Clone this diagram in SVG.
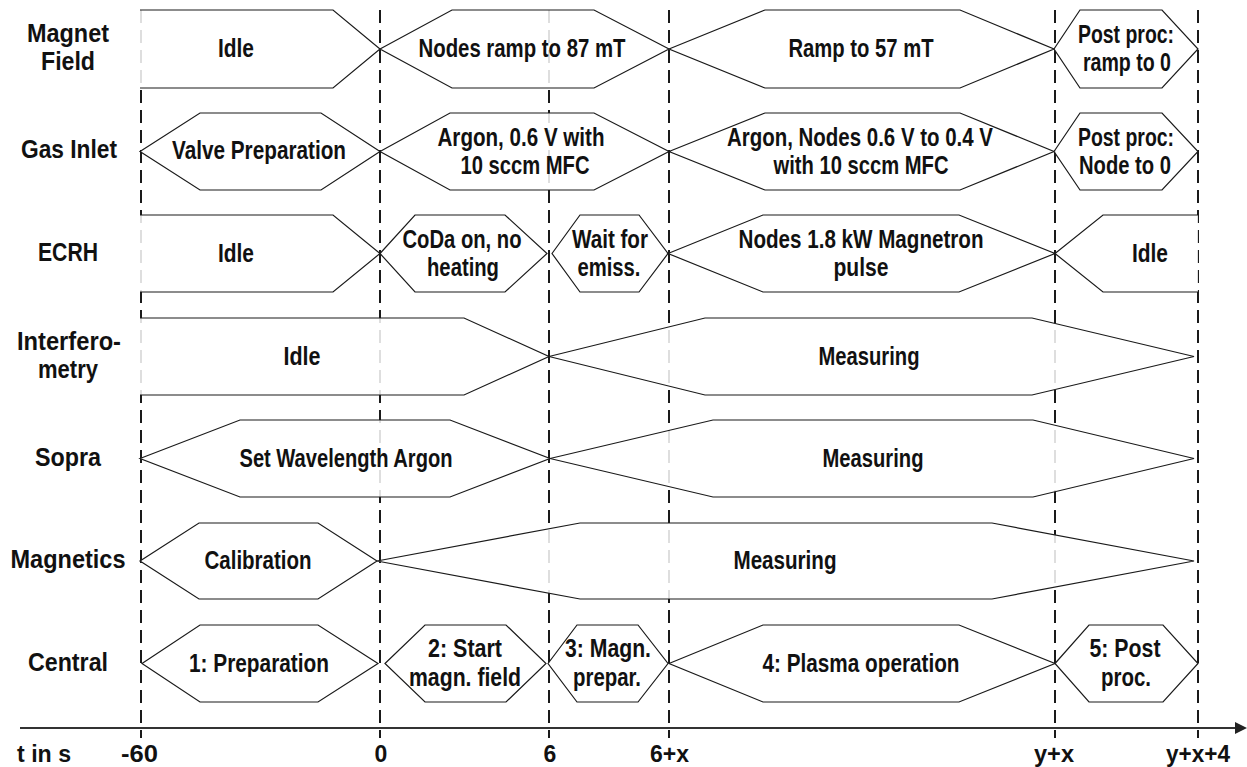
<svg xmlns="http://www.w3.org/2000/svg" width="1247" height="767" viewBox="0 0 1247 767">
<style>
.dash{stroke:#1a1a1a;stroke-width:2;stroke-dasharray:13 7;fill:none}
.axis{stroke:#333;stroke-width:2;fill:none}
.box{fill:#fff;fill-opacity:0.86;stroke:#1a1a1a;stroke-width:1.2;stroke-linejoin:miter}
text{font-family:"Liberation Sans",Arial,sans-serif;font-weight:bold;font-size:25px;text-anchor:middle;fill:#111}
.ax{font-size:23px}
</style>
<rect width="1247" height="767" fill="#fff"/>
<g id="connectors">
<line class="dash" x1="141" y1="10" x2="141" y2="738"/>
<line class="dash" x1="380" y1="10" x2="380" y2="738"/>
<line class="dash" x1="549" y1="10" x2="549" y2="738"/>
<line class="dash" x1="669" y1="10" x2="669" y2="738"/>
<line class="dash" x1="1055" y1="10" x2="1055" y2="738"/>
<line class="dash" x1="1198" y1="10" x2="1198" y2="738"/>
<line class="axis" x1="20" y1="728" x2="1238" y2="728"/>
<polygon points="1235,722 1247,728 1235,734" fill="#222"/>
</g>
<g id="row-labels">
<text x="68" y="42" textLength="82" lengthAdjust="spacingAndGlyphs">Magnet</text>
<text x="68" y="70" textLength="54" lengthAdjust="spacingAndGlyphs">Field</text>
<text x="69" y="158" textLength="96" lengthAdjust="spacingAndGlyphs">Gas Inlet</text>
<text x="68" y="261" textLength="60" lengthAdjust="spacingAndGlyphs">ECRH</text>
<text x="69" y="350" textLength="104" lengthAdjust="spacingAndGlyphs">Interfero-</text>
<text x="68" y="378" textLength="60" lengthAdjust="spacingAndGlyphs">metry</text>
<text x="68" y="466" textLength="66" lengthAdjust="spacingAndGlyphs">Sopra</text>
<text x="68" y="568" textLength="115" lengthAdjust="spacingAndGlyphs">Magnetics</text>
<text x="68" y="671" textLength="80" lengthAdjust="spacingAndGlyphs">Central</text>
</g>
<g id="axis-labels">
<text class="ax" x="44" y="762" textLength="54" lengthAdjust="spacingAndGlyphs">t in s</text>
<text class="ax" x="139.5" y="762" textLength="37" lengthAdjust="spacingAndGlyphs">-60</text>
<text class="ax" x="381" y="762">0</text>
<text class="ax" x="550" y="762">6</text>
<text class="ax" x="669.5" y="762" textLength="39" lengthAdjust="spacingAndGlyphs">6+x</text>
<text class="ax" x="1054" y="762" textLength="40" lengthAdjust="spacingAndGlyphs">y+x</text>
<text class="ax" x="1198" y="762" textLength="64" lengthAdjust="spacingAndGlyphs">y+x+4</text>
</g>
<!-- Magnet Field -->
<g id="mf-idle"><path class="box" d="M140,10 H333 L380,49 L333,88 H140"/><text x="236" y="57" textLength="36" lengthAdjust="spacingAndGlyphs">Idle</text></g>
<g id="mf-ramp87"><polygon class="box" points="380,49 452,10 594,10 669,49 594,88 452,88"/><text x="522" y="57" textLength="207" lengthAdjust="spacingAndGlyphs">Nodes ramp to 87 mT</text></g>
<g id="mf-ramp57"><polygon class="box" points="669,49 765,10 960,10 1054,49 960,88 765,88"/><text x="861" y="57" textLength="145" lengthAdjust="spacingAndGlyphs">Ramp to 57 mT</text></g>
<g id="mf-post"><polygon class="box" points="1054,49 1080,10 1162,10 1198,49 1162,88 1080,88"/><text x="1126" y="43" textLength="96" lengthAdjust="spacingAndGlyphs">Post proc:</text><text x="1127" y="71" textLength="88" lengthAdjust="spacingAndGlyphs">ramp to 0</text></g>
<!-- Gas Inlet -->
<g id="gas-valve"><polygon class="box" points="140,151.5 200,113 321,113 380,151.5 321,190 200,190"/><text x="259" y="159" textLength="174" lengthAdjust="spacingAndGlyphs">Valve Preparation</text></g>
<g id="gas-argon1"><polygon class="box" points="380,151.5 450,113 594,113 669,151.5 594,190 450,190"/><text x="521" y="145.5" textLength="167" lengthAdjust="spacingAndGlyphs">Argon, 0.6 V with</text><text x="525" y="173.5" textLength="129" lengthAdjust="spacingAndGlyphs">10 sccm MFC</text></g>
<g id="gas-argon2"><polygon class="box" points="669,151.5 765,113 960,113 1054,151.5 960,190 765,190"/><text x="860" y="145.5" textLength="266" lengthAdjust="spacingAndGlyphs">Argon, Nodes 0.6 V to 0.4 V</text><text x="861" y="173.5" textLength="175" lengthAdjust="spacingAndGlyphs">with 10 sccm MFC</text></g>
<g id="gas-post"><polygon class="box" points="1054,151.5 1080,113 1162,113 1198,151.5 1162,190 1080,190"/><text x="1126" y="145.5" textLength="96" lengthAdjust="spacingAndGlyphs">Post proc:</text><text x="1125" y="173.5" textLength="92" lengthAdjust="spacingAndGlyphs">Node to 0</text></g>
<!-- ECRH -->
<g id="ecrh-idle1"><path class="box" d="M140,215 H333 L380,253.5 L333,292 H140"/><text x="236" y="261.5" textLength="36" lengthAdjust="spacingAndGlyphs">Idle</text></g>
<g id="ecrh-coda"><polygon class="box" points="380,253.5 415,215 505,215 547,253.5 505,292 415,292"/><text x="462" y="247.5" textLength="119" lengthAdjust="spacingAndGlyphs">CoDa on, no</text><text x="463" y="275.5" textLength="72" lengthAdjust="spacingAndGlyphs">heating</text></g>
<g id="ecrh-wait"><polygon class="box" points="552,253.5 580,215 639,215 668,253.5 639,292 580,292"/><text x="610" y="247.5" textLength="76" lengthAdjust="spacingAndGlyphs">Wait for</text><text x="609" y="275.5" textLength="63" lengthAdjust="spacingAndGlyphs">emiss.</text></g>
<g id="ecrh-pulse"><polygon class="box" points="668,253.5 763,215 959,215 1055,253.5 959,292 763,292"/><text x="861" y="247.5" textLength="245" lengthAdjust="spacingAndGlyphs">Nodes 1.8 kW Magnetron</text><text x="861" y="275.5" textLength="55" lengthAdjust="spacingAndGlyphs">pulse</text></g>
<g id="ecrh-idle2"><path class="box" d="M1198,215 H1103 L1055,253.5 L1103,292 H1198"/><text x="1150" y="261.5" textLength="36" lengthAdjust="spacingAndGlyphs">Idle</text></g>
<!-- Interferometry -->
<g id="int-idle"><path class="box" d="M140,318 H464 L549,356.5 L464,395 H140"/><text x="302" y="364.5" textLength="37" lengthAdjust="spacingAndGlyphs">Idle</text></g>
<g id="int-meas"><polygon class="box" points="549,356.5 705,318 1032,318 1194,356.5 1032,395 705,395"/><text x="869" y="364.5" textLength="101" lengthAdjust="spacingAndGlyphs">Measuring</text></g>
<!-- Sopra -->
<g id="sopra-set"><polygon class="box" points="140,458.5 240,420 450,420 550,458.5 450,497 240,497"/><text x="346" y="466.5" textLength="213" lengthAdjust="spacingAndGlyphs">Set Wavelength Argon</text></g>
<g id="sopra-meas"><polygon class="box" points="550,458.5 713,420 1033,420 1194,458.5 1033,497 713,497"/><text x="873" y="466.5" textLength="101" lengthAdjust="spacingAndGlyphs">Measuring</text></g>
<!-- Magnetics -->
<g id="mag-cal"><polygon class="box" points="140,561 199,523 318,523 377,561 318,599 199,599"/><text x="258" y="569" textLength="107" lengthAdjust="spacingAndGlyphs">Calibration</text></g>
<g id="mag-meas"><polygon class="box" points="377,561 580,523 992,523 1194,561 992,599 580,599"/><text x="785" y="569" textLength="103" lengthAdjust="spacingAndGlyphs">Measuring</text></g>
<!-- Central -->
<g id="c1"><polygon class="box" points="142,663.5 200,625 318,625 378,663.5 318,702 200,702"/><text x="259" y="671.5" textLength="140" lengthAdjust="spacingAndGlyphs">1: Preparation</text></g>
<g id="c2"><polygon class="box" points="385,663.5 425,625 506,625 546,663.5 506,702 425,702"/><text x="465" y="656.5" textLength="74" lengthAdjust="spacingAndGlyphs">2: Start</text><text x="465" y="686" textLength="112" lengthAdjust="spacingAndGlyphs">magn. field</text></g>
<g id="c3"><polygon class="box" points="548,663.5 577,625 638,625 668,663.5 638,702 577,702"/><text x="608" y="656.5" textLength="86" lengthAdjust="spacingAndGlyphs">3: Magn.</text><text x="607" y="686" textLength="68" lengthAdjust="spacingAndGlyphs">prepar.</text></g>
<g id="c4"><polygon class="box" points="669,663.5 763,625 959,625 1055,663.5 959,702 763,702"/><text x="861" y="671.5" textLength="197" lengthAdjust="spacingAndGlyphs">4: Plasma operation</text></g>
<g id="c5"><polygon class="box" points="1055,663.5 1089,625 1163,625 1198,663.5 1163,702 1089,702"/><text x="1125" y="656.5" textLength="71" lengthAdjust="spacingAndGlyphs">5: Post</text><text x="1126" y="686" textLength="50" lengthAdjust="spacingAndGlyphs">proc.</text></g>
</svg>
